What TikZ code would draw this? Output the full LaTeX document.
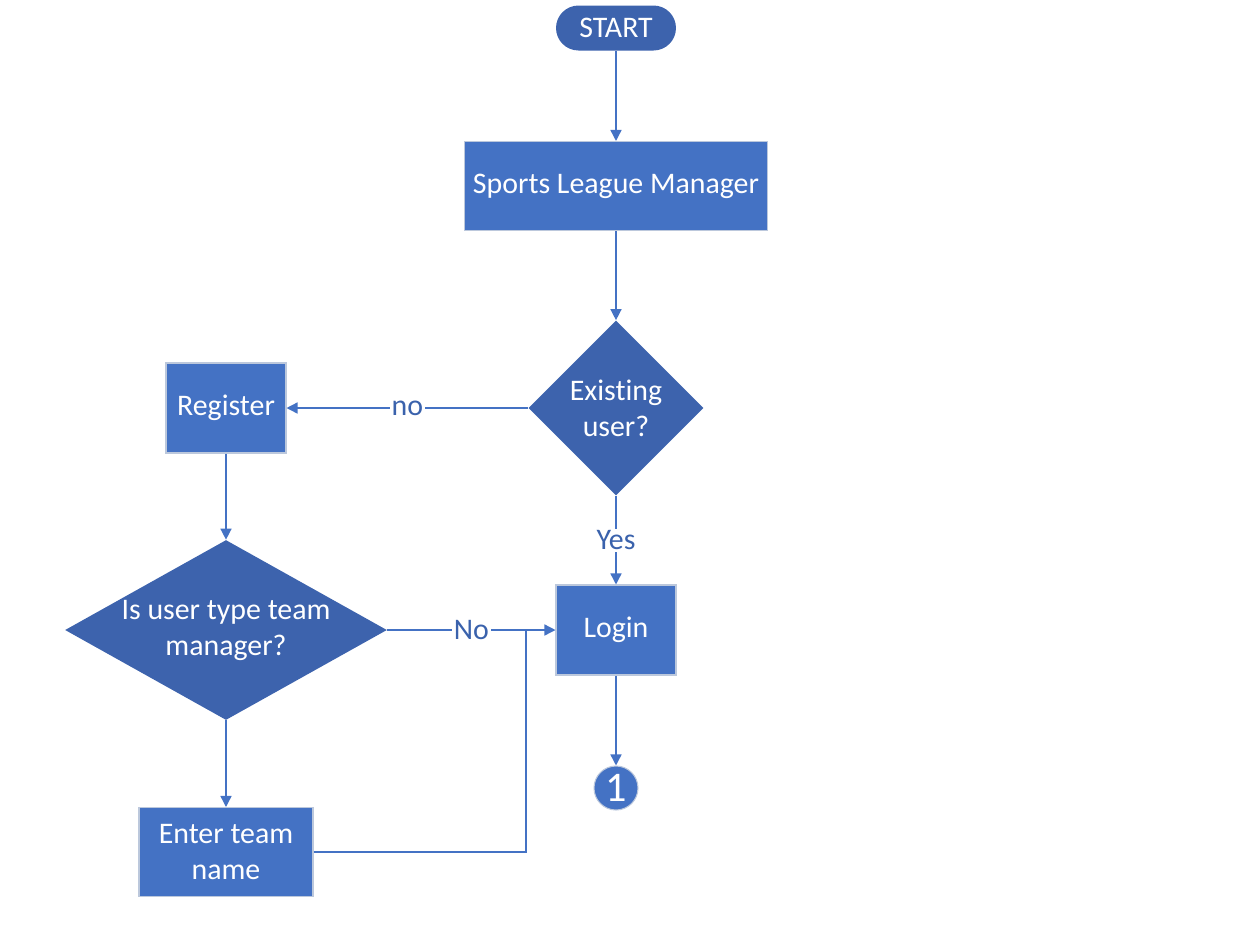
\documentclass[tikz,border=0pt]{standalone}
\usepackage{fontspec}
\setmainfont{Carlito}[Ligatures=NoCommon]
\usepackage{tikz}
\usetikzlibrary{arrows.meta,positioning,shapes.geometric,calc}
\definecolor{flowblue}{HTML}{4472C4}
\definecolor{flowdark}{HTML}{3D63AD}
\definecolor{flowedge}{HTML}{BCC8DC}
\definecolor{flowtext}{HTML}{3A62AC}

\begin{document}
\begin{tikzpicture}[
    x=0.02cm,
    y=-0.02cm,
    font=\fontsize{17}{20.5}\selectfont,
    box/.style={rectangle, draw=flowedge, line width=0.6pt, fill=flowblue, text=white, align=center, inner sep=0pt},
    decide/.style={diamond, fill=flowdark, text=white, align=center, inner sep=-2mm},
    link/.style={-{Triangle[length=2.2mm,width=2.2mm]}, line width=0.8pt, draw=flowblue},
    lab/.style={fill=white, text=flowtext, inner sep=1pt}
  ]
    \useasboundingbox (0,0) rectangle (1242,941);
    \node[box, fill=flowdark, draw=none, rounded corners=0.45cm, minimum width=2.4cm, minimum height=0.9cm] (start) at (616,28) {START};
    \node[box, minimum width=6.06cm, minimum height=1.78cm] (league) at (616,186) {Sports League Manager};
    \node[decide, minimum width=3.5cm, minimum height=3.5cm] (exist) at (616,408) {Existing\\user?};
    \node[box, minimum width=2.4cm, minimum height=1.8cm] (register) at (226,408) {Register};
    \node[box, minimum width=2.4cm, minimum height=1.8cm] (login) at (616,630) {Login};
    \node[circle, draw=flowedge, line width=0.6pt, fill=flowblue, text=white, minimum size=0.88cm, inner sep=0pt, font=\fontsize{24}{28}\selectfont] (conn) at (616,788) {1};
    \node[decide, inner sep=-5mm, minimum width=6.44cm, minimum height=3.6cm] (mgr) at (226,630) {Is user type team\\manager?};
    \node[box, minimum width=3.48cm, minimum height=1.78cm] (team) at (226,852) {Enter team\\name};
    \coordinate (join) at (526,630);

    \draw[link] (start.south) -- (league.north);
    \draw[link] (league.south) -- (exist.north);
    \draw[link] (exist.west) -- node[lab] {no} (register.east);
    \draw[link] (exist.south) -- node[lab] {Yes} (login.north);
    \draw[link] (register.south) -- (mgr.north);
    \draw[link] (mgr.east) -- node[lab] {No} (login.west);
    \draw[link] (mgr.south) -- (team.north);
    \draw[line width=0.8pt, draw=flowblue] (team.east) -| (join);
    \draw[link] (login.south) -- (conn.north);
  \end{tikzpicture}
\end{document}
